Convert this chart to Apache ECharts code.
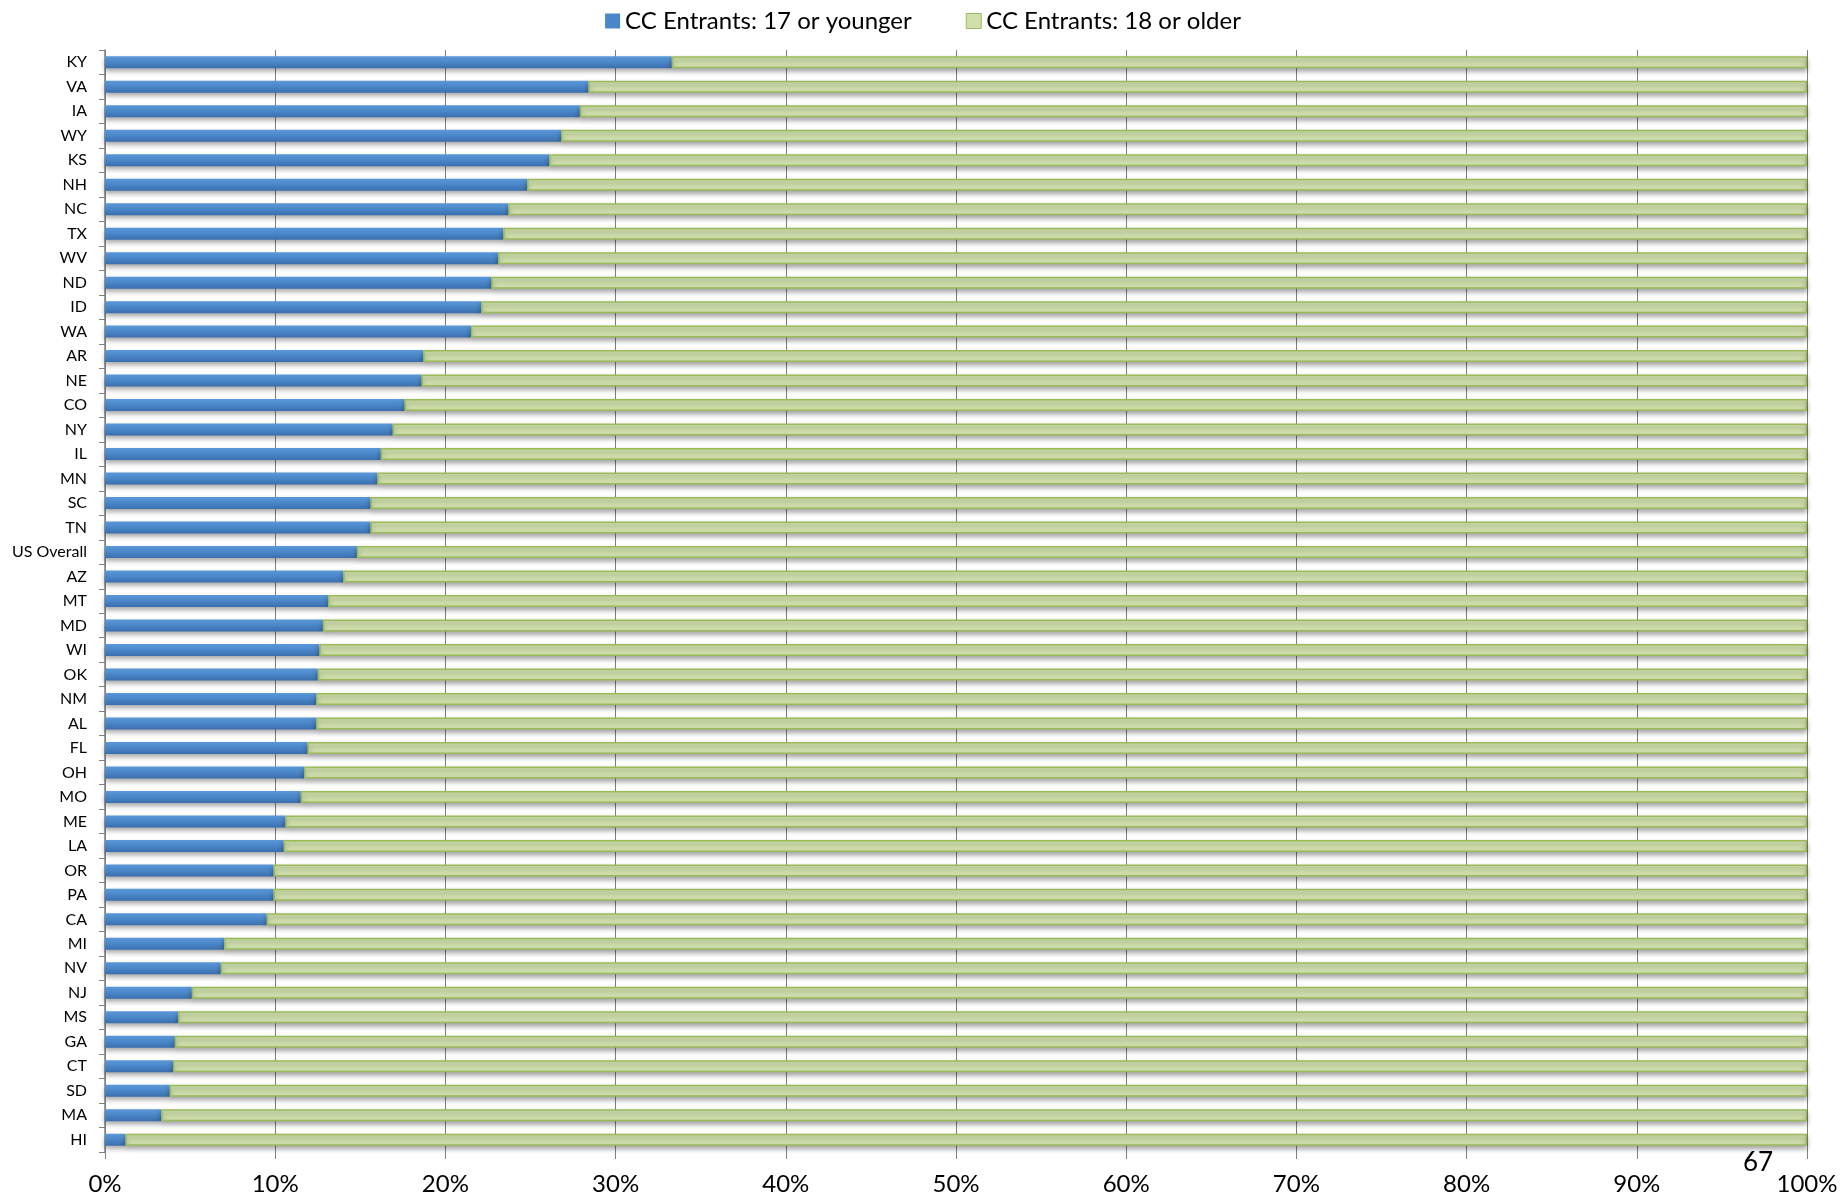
<!DOCTYPE html>
<html>
<head>
<meta charset="utf-8">
<script src="https://cdn.jsdelivr.net/npm/echarts@6/dist/echarts.min.js"></script>
<style>
html,body{margin:0;padding:0;background:#fff;}
#chart{width:1846px;height:1198px;}
</style>
</head>
<body>
<div id="chart"></div>
<script>
const categories = ["KY","VA","IA","WY","KS","NH","NC","TX","WV","ND","ID","WA","AR","NE","CO","NY","IL","MN","SC","TN","US Overall","AZ","MT","MD","WI","OK","NM","AL","FL","OH","MO","ME","LA","OR","PA","CA","MI","NV","NJ","MS","GA","CT","SD","MA","HI"];
const younger = [33.3,28.4,27.9,26.8,26.1,24.8,23.7,23.4,23.1,22.7,22.1,21.5,18.7,18.6,17.6,16.9,16.2,16.0,15.6,15.6,14.8,14.0,13.1,12.8,12.6,12.5,12.4,12.4,11.9,11.7,11.5,10.6,10.5,9.9,9.9,9.5,7.0,6.8,5.1,4.3,4.1,4.0,3.8,3.3,1.2];
const older = [66.7,71.6,72.1,73.2,73.9,75.2,76.3,76.6,76.9,77.3,77.9,78.5,81.3,81.4,82.4,83.1,83.8,84.0,84.4,84.4,85.2,86.0,86.9,87.2,87.4,87.5,87.6,87.6,88.1,88.3,88.5,89.4,89.5,90.1,90.1,90.5,93.0,93.2,94.9,95.7,95.9,96.0,96.2,96.7,98.8];
const xTicks = [0,10,20,30,40,50,60,70,80,90,100];
const seriesNames = ["CC Entrants: 17 or younger","CC Entrants: 18 or older"];

const chart = echarts.init(document.getElementById('chart'));
const blueGrad = new echarts.graphic.LinearGradient(0,0,0,1,[
  {offset:0,color:'#5a98d8'},{offset:0.5,color:'#4a86c8'},{offset:1,color:'#3a6fae'}]);
chart.setOption({
  animation:false,
  backgroundColor:'#ffffff',
  legend:{
    top:4, left:'center',
    itemWidth:15, itemHeight:15, itemGap:54,
    textStyle:{fontFamily:'Lato', fontSize:24, color:'#000'},
    data:[
      {name:seriesNames[0], icon:'rect', itemStyle:{color:'#4a86c8'}},
      {name:seriesNames[1], icon:'rect', itemStyle:{color:'#d0e0ad', borderColor:'#9bbb59', borderWidth:1}}
    ]
  },
  grid:{left:105, right:39, top:50, bottom:46, containLabel:false},
  xAxis:{
    type:'value', min:0, max:100, interval:10,
    axisLine:{show:false},
    axisTick:{show:true, length:7, lineStyle:{color:'#808080'}},
    splitLine:{show:true, lineStyle:{color:'#7f7f7f', width:1}},
    axisLabel:{margin:20, fontFamily:'Lato', fontSize:24, color:'#000',
      formatter:v => xTicks.includes(v) ? v + '%' : ''}
  },
  yAxis:{
    type:'category', data:categories, inverse:true,
    axisLine:{show:true, lineStyle:{color:'#808080', width:1.5}},
    axisTick:{show:true, length:6, lineStyle:{color:'#808080'}},
    axisLabel:{margin:18, fontFamily:'Lato', fontSize:16, color:'#000'}
  },
  series:[
    {name:seriesNames[0], type:'bar', stack:'s', data:younger, barWidth:12,
     itemStyle:{color:blueGrad, shadowColor:'rgba(0,0,0,0.35)', shadowBlur:5, shadowOffsetY:3}},
    {name:seriesNames[1], type:'bar', stack:'s', data:older, barWidth:12,
     itemStyle:{color:'#d0e0ad', borderColor:'#9bbb59', borderWidth:1.5,
       shadowColor:'rgba(0,0,0,0.35)', shadowBlur:5, shadowOffsetY:3}}
  ],
  graphic:[
    {type:'text', left:1743, top:1150, style:{text:'67', fontFamily:'Lato', fontSize:26, fill:'#000'}}
  ]
});
</script>
</body>
</html>
